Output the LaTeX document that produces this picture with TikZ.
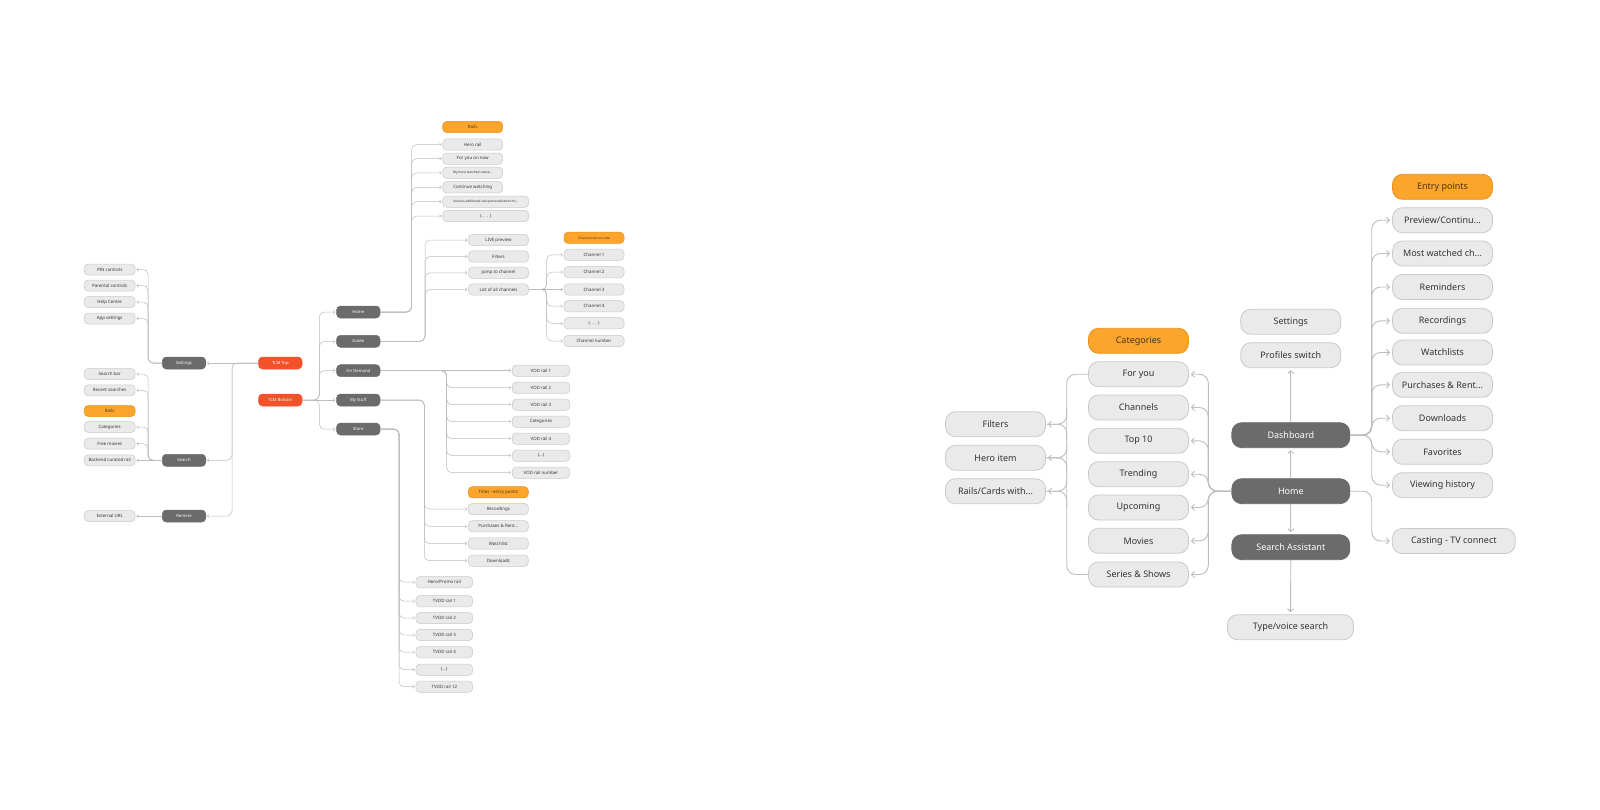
\documentclass[tikz,border=0pt]{standalone}
\usepackage{fontspec}
\setmainfont{Noto Sans}
\usetikzlibrary{arrows.meta,calc}
\definecolor{lfill}{HTML}{EAEAEA}
\definecolor{ldraw}{HTML}{C9C9C9}
\definecolor{dfill}{HTML}{6B6B6B}
\definecolor{ofill}{HTML}{FBA52C}
\definecolor{odraw}{HTML}{E8921C}
\definecolor{rfill}{HTML}{F2512A}
\definecolor{lnc}{HTML}{BDBDBD}
\definecolor{tx}{HTML}{333333}
\definecolor{otx}{HTML}{4A3413}
\newcommand{\lk}[4]{\draw[#1] (#2) -- (#2 -| #3) |- (#4);}
\begin{document}
\begin{tikzpicture}[x=1pt,y=-1pt,
 base/.style={rounded corners=4pt, inner sep=0pt, line width=0.5pt, align=center},
 sl/.style={base, fill=lfill, draw=ldraw, text=tx, minimum width=51pt, minimum height=11pt, font=\fontsize{4.4}{5}\selectfont},
 so/.style={sl, fill=ofill, draw=odraw, text=otx},
 sd/.style={base, fill=dfill, draw=dfill, text=white, minimum width=43.5pt, minimum height=12pt, font=\fontsize{4.2}{5}\selectfont},
 sr/.style={sd, fill=rfill, draw=rfill},
 wa/.style={minimum width=60pt, minimum height=11.3pt},
 wb/.style={minimum width=86pt, minimum height=11.3pt},
 wv/.style={minimum width=57.5pt, minimum height=11.3pt},
 ws/.style={minimum width=56.7pt, minimum height=11.3pt},
 fs/.style={font=\fontsize{3.2}{4}\selectfont},
 bl/.style={rounded corners=10pt, inner sep=0pt, fill=lfill, draw=ldraw, line width=0.8pt, text=tx, minimum width=100pt, minimum height=25pt, font=\fontsize{9}{11}\selectfont},
 bo/.style={bl, fill=ofill, draw=odraw, text=otx},
 bd/.style={bl, fill=dfill, draw=dfill, text=white, minimum width=118pt},
 cl/.style={draw=lnc, line width=0.5pt, rounded corners=5pt, -{Straight Barb[length=1.6pt,width=3.2pt]}, shorten >=1pt},
 cr/.style={draw=lnc, line width=0.9pt, rounded corners=9pt, -{Straight Barb[length=3pt,width=6pt]}, shorten >=2pt},
 cb/.style={draw=lnc, line width=0.9pt, rounded corners=9pt}
]
\fill[white] (0,0) rectangle (1600,809);
\useasboundingbox (0,0) rectangle (1600,809);

% trunks
\coordinate (tS) at (148,0);
\coordinate (tT) at (232,0);
\coordinate (tB) at (319.3,0);
\coordinate (tH) at (411.7,0);
\coordinate (tG) at (425,0);
\coordinate (tL) at (546.7,0);
\coordinate (tO) at (446.7,0);
\coordinate (tM) at (424.3,0);
\coordinate (tSt) at (399,0);
\coordinate (tHm) at (1208.3,0);
\coordinate (tD) at (1371.7,0);
\coordinate (tC) at (1066.7,0);

% ---------- left diagram ----------
\node[sl] (pin) at (109.7,269.5) {PIN controls};
\node[sl] (par) at (109.7,285.5) {Parental controls};
\node[sl] (hlp) at (109.7,302) {Help Centre};
\node[sl] (aps) at (109.7,318.5) {App settings};
\node[sl] (sbar) at (109.7,374) {Search bar};
\node[sl] (rec) at (109.7,390.3) {Recent searches};
\node[so] (srails) at (109.7,411) {Rails};
\node[sl] (scat) at (109.7,427) {Categories};
\node[sl] (free) at (109.7,443.7) {Free movies};
\node[sl] (back) at (109.7,460.3) {Backend curated rail};
\node[sl] (ext) at (109.7,516) {External URL};

\node[sd] (set) at (184,363) {Settings};
\node[sd] (srch) at (184,460.3) {Search};
\node[sd] (rem) at (184,516) {Remote};
\node[sr] (top) at (280.3,363) {TLM Top};
\node[sr] (bot) at (280.3,400) {TLM Bottom};

\node[sd] (home) at (358.3,312) {Home};
\node[sd] (guide) at (358.3,341.3) {Guide};
\node[sd] (od) at (358.3,370.7) {On Demand};
\node[sd] (ms) at (358.3,400) {My Stuff};
\node[sd] (store) at (358.3,429) {Store};

\node[so,wa] (rails) at (472.7,127) {Rails};
\node[sl,wa] (hero) at (472.7,144.5) {Hero rail};
\node[sl,wa] (fyon) at (472.7,158.7) {For you on now};
\node[sl,wa,fs] (mmw) at (472.7,172.8) {My most watched native...};
\node[sl,wa] (cw) at (472.7,187.3) {Continue watching};
\node[sl,wb,fs] (var) at (485.7,201.7) {Various additional rails personalized to th...};
\node[sl,wb] (rdots) at (485.7,216) {(. . . )};

\node[sl,wa] (live) at (498.5,240) {LIVE preview};
\node[sl,wa] (filt) at (498.5,256.5) {Filters};
\node[sl,wa] (jump) at (498.5,272.8) {Jump to channel};
\node[sl,wa] (list) at (498.5,289.5) {List of all channels};

\node[so,wa,fs] (chh) at (594,237.8) {Channel rails on side};
\node[sl,wa] (ch1) at (594,254.8) {Channel 1};
\node[sl,wa] (ch2) at (594,272.2) {Channel 2};
\node[sl,wa] (ch3) at (594,289.5) {Channel 3};
\node[sl,wa] (ch4) at (594,306.2) {Channel 4};
\node[sl,wa] (chd) at (594,323.3) {(. . . )};
\node[sl,wa] (chn) at (594,341) {Channel number};

\node[sl,wv] (v1) at (541,370.7) {VOD rail 1};
\node[sl,wv] (v2) at (541,387.7) {VOD rail 2};
\node[sl,wv] (v3) at (541,404.7) {VOD rail 3};
\node[sl,wv] (vc) at (541,421.7) {Categories};
\node[sl,wv] (v4) at (541,438.7) {VOD rail 4};
\node[sl,wv] (vd) at (541,455.7) {(...)};
\node[sl,wv] (vn) at (541,472.7) {VOD rail number};

\node[so,wa] (tit) at (498.3,492.3) {Titles - entry points};
\node[sl,wa] (recs) at (498.3,509) {Recordings};
\node[sl,wa] (pur) at (498.3,526.3) {Purchases \& Rent...};
\node[sl,wa] (wl) at (498.3,543.5) {Watchlist};
\node[sl,wa] (dl) at (498.3,560.7) {Downloads};

\node[sl,ws] (hp) at (444.3,582.2) {Hero/Promo rail};
\node[sl,ws] (t1) at (444.3,601.2) {TVOD rail 1};
\node[sl,ws] (t2) at (444.3,618) {TVOD rail 2};
\node[sl,ws] (t3) at (444.3,635) {TVOD rail 3};
\node[sl,ws] (t4) at (444.3,652.2) {TVOD rail 4};
\node[sl,ws] (td) at (444.3,669.7) {(...)};
\node[sl,ws] (t12) at (444.3,686.7) {TVOD rail 12};

% left connectors
\draw[cl] (top.west) -- (set.east);
\lk{cl}{top.west}{tT}{srch.east}
\lk{cl}{top.west}{tT}{rem.east}
\foreach \n in {pin,par,hlp,aps} {\lk{cl}{set.west}{tS}{\n.east}}
\foreach \n in {sbar,rec,scat,free} {\lk{cl}{srch.west}{tS}{\n.east}}
\draw[cl] (srch.west) -- (back.east);
\draw[cl] (rem.west) -- (ext.east);
\foreach \n in {home,guide,od,store} {\lk{cl}{bot.east}{tB}{\n.west}}
\draw[cl] (bot.east) -- (ms.west);
\foreach \n in {hero,fyon,mmw,cw,var,rdots} {\lk{cl}{home.east}{tH}{\n.west}}
\foreach \n in {live,filt,jump,list} {\lk{cl}{guide.east}{tG}{\n.west}}
\foreach \n in {ch1,ch2,ch4,chd,chn} {\lk{cl}{list.east}{tL}{\n.west}}
\draw[cl] (list.east) -- (ch3.west);
\draw[cl] (od.east) -- (v1.west);
\foreach \n in {v2,v3,vc,v4,vd,vn} {\lk{cl}{od.east}{tO}{\n.west}}
\foreach \n in {recs,pur,wl,dl} {\lk{cl}{ms.east}{tM}{\n.west}}
\foreach \n in {hp,t1,t2,t3,t4,td,t12} {\lk{cl}{store.east}{tSt}{\n.west}}

% ---------- right diagram ----------
\node[bo] (cats) at (1138.5,340.8) {Categories};
\node[bl] (c1) at (1138.5,374.2) {For you};
\node[bl] (c2) at (1138.5,407.5) {Channels};
\node[bl] (c3) at (1138.5,440.8) {Top 10};
\node[bl] (c4) at (1138.5,474.2) {Trending};
\node[bl] (c5) at (1138.5,507.5) {Upcoming};
\node[bl] (c6) at (1138.5,540.8) {Movies};
\node[bl] (c7) at (1138.5,574.5) {Series \& Shows};

\node[bl] (fil) at (995.5,424.2) {Filters};
\node[bl] (hit) at (995.5,457.8) {Hero item};
\node[bl] (rcw) at (995.5,491.2) {Rails/Cards with...};

\node[bl] (rset) at (1290.8,321.8) {Settings};
\node[bl] (prof) at (1290.8,355.2) {Profiles switch};
\node[bd] (dash) at (1290.8,435.2) {Dashboard};
\node[bd] (rhome) at (1290.8,491.2) {Home};
\node[bd] (sa) at (1290.8,547.2) {Search Assistant};
\node[bl,minimum width=126pt] (tv) at (1290.5,627.2) {Type/voice search};

\node[bo] (ep) at (1442.5,186.8) {Entry points};
\node[bl] (e1) at (1442.5,220.2) {Preview/Continu...};
\node[bl] (e2) at (1442.5,253.5) {Most watched ch...};
\node[bl] (e3) at (1442.5,287) {Reminders};
\node[bl] (e4) at (1442.5,320.8) {Recordings};
\node[bl] (e5) at (1442.5,352.5) {Watchlists};
\node[bl] (e6) at (1442.5,384.8) {Purchases \& Rent...};
\node[bl] (e7) at (1442.5,418.2) {Downloads};
\node[bl] (e8) at (1442.5,451.8) {Favorites};
\node[bl] (e9) at (1442.5,485.2) {Viewing history};
\node[bl,minimum width=123pt] (cast) at (1453.8,541) {Casting - TV connect};

% right connectors
\draw[cr] (rhome.north) -- (dash.south);
\draw[cr] (dash.north) -- (prof.south);
\draw[cr] (rhome.south) -- (sa.north);
\draw[cr] (sa.south) -- (tv.north);
\foreach \n in {e1,e2,e3,e4,e5,e6,e7,e8,e9} {\lk{cr}{dash.east}{tD}{\n.west}}
\lk{cr}{rhome.east}{tD}{cast.west}
\foreach \n in {c1,c2,c3,c4,c5,c6,c7} {\lk{cr}{rhome.west}{tHm}{\n.east}}
\draw[cb] (c1.west) -- (c1.west -| tC) |- (c7.west);
\foreach \n in {fil,hit,rcw} {
  \draw[cr] ($(\n.east -| tC)+(0,-16)$) |- (\n.east);
  \draw[cb] ($(\n.east -| tC)+(0,16)$) |- (\n.east);
}
\end{tikzpicture}
\end{document}
